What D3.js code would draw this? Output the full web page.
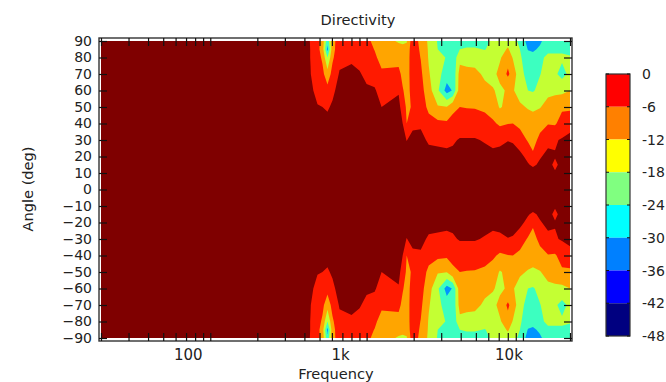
<!DOCTYPE html>
<html>
<head>
<meta charset="utf-8">
<script src="https://cdn.jsdelivr.net/npm/d3@7"></script>
<style>
  html, body { margin: 0; padding: 0; background: #fff; }
  svg { display: block; }
  text { font-family: "DejaVu Sans", sans-serif; fill: #222; }
</style>
</head>
<body>
<svg width="666" height="382"></svg>
<script>
// measurement grid, upper half only (the lower half mirrors it)
const angles = [90, 85, 80, 70, 60, 50, 40, 30, 20, 15, 10, 0];
const freqs = [20, 345, 400, 438, 485, 522, 562, 605, 671, 801, 902, 1000, 1126, 1247, 1604, 1701, 1805, 1972, 2220, 2497, 2851, 3258, 3559, 3948, 4375, 4924, 5705, 6425, 7123, 8014, 8630, 9565, 10770, 11590, 12850, 14460, 16040, 17780, 20000];

// one line per frequency, one value per angle
const dbByFreq = [
  [-2, -2, -2, -2, -2, -1, -1, -1, -1, -1, -1, -1],
  [-3, -3, -3, -2, -2, -2, -1, -1, 0, 0, 0, 0],
  [-4.5, -4.5, -4.5, -4, -3, -3, -2, -1, -1, -1, 0, 0],
  [-6.2, -6.1, -6.1, -5.9, -5, -4, -3, -2, -1, -1, -1, 0],
  [-10, -10, -9.5, -8.5, -7.5, -5.7, -4, -3, -2, -2, -1, -1],
  [-14.5, -15, -13, -10.5, -8.5, -6, -4, -3, -2, -2, -1, -1],
  [-28, -32, -24, -15.5, -10, -6.8, -4, -2, -1, -1, -1, -1],
  [-14, -14, -13, -10, -7.5, -5, -3, -2, -1, -1, -1, -1],
  [-9, -8.5, -7.5, -5.5, -3.5, -2, -1, -1, -1, -1, -1, -1],
  [-8.5, -8, -7, -4.5, -3, -2, -1, -1, -1, -1, -1, -1],
  [-9.5, -9, -8, -5.5, -4, -3, -2, -1, -1, -1, -1, -1],
  [-10.5, -10, -9.5, -7.5, -5, -4, -3, -2, -1, -1, -1, -1],
  [-13.5, -12.2, -11, -8, -5.5, -4, -3, -2, -1, -1, -1, -1],
  [-16, -15.5, -14, -11, -8, -6, -4, -3, -2, -2, -1, -1],
  [-18.5, -16.5, -14, -10.5, -6.5, -4.5, -3, -2, -2, -1, -1, -1],
  [-19, -16.5, -15, -13.5, -11.5, -8.5, -6, -4, -3, -2, -2, -1],
  [-18.5, -16, -15, -14.5, -14, -13, -12, -6.2, -3, -3, -2, -1],
  [-8, -8, -8.5, -9, -10, -11.5, -7.5, -4, -3, -2, -2, -1],
  [-14, -13, -12.2, -10.8, -9.8, -9, -6.8, -4.5, -3, -3, -2, -1],
  [-19, -18.7, -18.5, -17.5, -15.5, -13.3, -10, -6.8, -4, -3, -2, -2],
  [-24.5, -24, -23, -22, -23, -17.5, -10.5, -7, -4.5, -4, -3, -2],
  [-28, -26, -24.2, -27, -32.5, -17.8, -11, -7.5, -4.5, -4, -3, -2],
  [-27, -27, -28, -29, -29.5, -13.5, -10, -6.8, -4.5, -4, -3, -2],
  [-26, -24, -20, -15.5, -14.5, -12, -9.5, -5.5, -4, -3, -3, -2],
  [-26, -23.5, -20.5, -16, -14, -12.2, -9.5, -5.5, -4, -3, -3, -2],
  [-26, -23.5, -20.5, -16.5, -14.5, -12.3, -9.5, -5.5, -4, -3, -3, -2],
  [-25.5, -24.2, -22, -19, -16.5, -13, -10, -6.5, -4, -3, -3, -2],
  [-23, -22.5, -21.5, -20, -17.5, -15, -11, -7.5, -4.5, -4, -3, -2],
  [-21, -20, -18.8, -16, -19.5, -18.5, -13, -7, -4.5, -4, -3, -2],
  [-19.5, -17.5, -14, -11, -17, -16.5, -12.2, -6.2, -3.5, -3, -2, -2],
  [-21, -20, -18.5, -14.5, -17.5, -15, -12, -6.5, -4, -3, -3, -2],
  [-26, -24, -23, -22, -20.5, -17, -13.5, -9, -4.5, -4, -3, -2],
  [-32, -30.3, -28, -26, -24, -18.5, -15, -12.6, -7.5, -5.5, -4, -2],
  [-34, -31, -28, -26.5, -24.5, -18.8, -16, -14, -11, -7, -3.5, -2],
  [-31, -29, -25, -24.2, -22.5, -18.3, -14, -10.5, -6.5, -5, -4, -2],
  [-27, -25, -23, -22, -19.5, -16, -12.3, -7.5, -4.5, -4.5, -4, -2],
  [-28, -25, -23, -23, -19, -15.5, -12.7, -6.5, -5.7, -7, -5.5, -2],
  [-27, -25, -23, -26, -19.5, -13, -9.5, -5.5, -4, -4.5, -4, -2],
  [-27, -25.5, -23.5, -22.5, -18, -13, -8.5, -4, -3, -3, -3, -2],
];

// filled bands in the plot, lowest first
const bandThresholds = [-60, -30, -24, -18, -12, -6];
const bandColors = ["#0094ff", "#3cffc0", "#c4ff33", "#ffa500", "#ff1a00", "#7f0000"];

// colour bar
const barTicks = [0, -6, -12, -18, -24, -30, -36, -42, -48];
const barColors = ["#ff0000", "#ff8000", "#ffff00", "#80ff80", "#00ffff", "#0080ff", "#0000ff", "#000080"];

const xMinorTicks = [20, 30, 40, 50, 60, 70, 80, 90, 100, 200, 300, 400, 500, 600, 700, 800, 900, 1000, 2000, 3000, 4000, 5000, 6000, 7000, 8000, 9000, 10000, 20000];
const yTicks = d3.range(-90, 91, 10);
// the labels do not sit under their ticks in the original
const xLabels = [
  { value: 100, text: "100", shift: -22 },
  { value: 1000, text: "1k", shift: -26 },
  { value: 10000, text: "10k", shift: -14 },
];

const svg = d3.select("svg");
const x = d3.scaleLog().domain([20, 20000]).range([101, 570]);
const y = d3.scaleLinear().domain([90, -90]).range([41, 338]);
const barY = d3.scaleLinear().domain([0, -48]).range([74, 336]);

// build the full grid by mirroring the upper half
const allAngles = angles.concat(angles.slice(0, -1).reverse().map((a) => -a));
const grid = [];
allAngles.forEach((a) => {
  const row = angles.indexOf(Math.abs(a));
  dbByFreq.forEach((col) => grid.push(col[row]));
});

const contours = d3.contours().size([freqs.length, allAngles.length]).thresholds(bandThresholds)(grid);

// contour coords are in grid cells, samples sit on the cell centres
const colX = d3.scaleLinear(d3.range(freqs.length), freqs.map(x)).clamp(true);
const rowY = d3.scaleLinear(d3.range(allAngles.length), allAngles.map(y)).clamp(true);
const path = d3.geoPath(
  d3.geoTransform({
    point(px, py) {
      this.stream.point(colX(px - 0.5), rowY(py - 0.5));
    },
  }),
);

svg
  .append("g")
  .selectAll("path")
  .data(contours)
  .join("path")
  .attr("d", path)
  .attr("fill", (d, i) => bandColors[i]);

const plotTop = y.range()[0] - 3;
const plotBottom = y.range()[1] + 3;
const plotLeft = x.range()[0] - 2;
const plotRight = x.range()[1] + 2;

// frame with a small white gap round the image
svg
  .append("rect")
  .attr("x", plotLeft)
  .attr("y", plotTop)
  .attr("width", plotRight - plotLeft)
  .attr("height", plotBottom - plotTop)
  .attr("fill", "none")
  .attr("stroke", "#333")
  .attr("stroke-width", 1.4);

function styleAxis(g) {
  g.select(".domain").remove();
  g.selectAll(".tick line").attr("stroke", "#111").attr("stroke-width", 1.2);
}

// inward ticks on all four sides
svg.append("g").attr("transform", `translate(0,${plotTop})`)
  .call(d3.axisTop(x).tickValues(xMinorTicks).tickSize(-8).tickFormat("")).call(styleAxis);
svg.append("g").attr("transform", `translate(0,${plotBottom})`)
  .call(d3.axisBottom(x).tickValues(xMinorTicks).tickSize(-8).tickFormat("")).call(styleAxis);
svg.append("g").attr("transform", `translate(${plotLeft},0)`)
  .call(d3.axisLeft(y).tickValues(yTicks).tickSize(-8).tickPadding(7).tickFormat(d3.format("d"))).call(styleAxis)
  .selectAll("text").attr("font-size", 14).style("font-family", '"DejaVu Sans", sans-serif');
svg.append("g").attr("transform", `translate(${plotRight},0)`)
  .call(d3.axisRight(y).tickValues(yTicks).tickSize(-8).tickFormat("")).call(styleAxis);

svg
  .append("g")
  .selectAll("text")
  .data(xLabels)
  .join("text")
  .attr("x", (d) => x(d.value) + d.shift)
  .attr("y", 360)
  .attr("text-anchor", "middle")
  .attr("font-size", 15)
  .text((d) => d.text);

svg.append("text").attr("x", 358).attr("y", 25).attr("text-anchor", "middle").attr("font-size", 14.6).text("Directivity");
svg.append("text").attr("x", 336).attr("y", 379).attr("text-anchor", "middle").attr("font-size", 14.6).text("Frequency");
svg.append("text").attr("transform", "translate(33,189) rotate(-90)").attr("text-anchor", "middle").attr("font-size", 14.6).text("Angle (deg)");

// colour bar
const bar = svg.append("g");
bar
  .selectAll("rect")
  .data(barColors)
  .join("rect")
  .attr("x", 606)
  .attr("width", 24)
  .attr("y", (d, i) => barY(barTicks[i]))
  .attr("height", (d, i) => barY(barTicks[i + 1]) - barY(barTicks[i]))
  .attr("fill", (d) => d);
bar
  .append("rect")
  .attr("class", "outline")
  .attr("x", 606)
  .attr("y", barY(0))
  .attr("width", 24)
  .attr("height", barY(-48) - barY(0))
  .attr("fill", "none")
  .attr("stroke", "#333")
  .attr("stroke-width", 1.2);
bar
  .selectAll("path")
  .data(barTicks)
  .join("path")
  .attr("d", (d) => `M606,${barY(d)}h3M630,${barY(d)}h-3`)
  .attr("stroke", "#111")
  .attr("stroke-width", 1);
bar
  .selectAll("text")
  .data(barTicks)
  .join("text")
  .attr("x", 642)
  .attr("y", (d) => barY(d) + 5)
  .attr("font-size", 14)
  .text((d) => d);
</script>
</body>
</html>
